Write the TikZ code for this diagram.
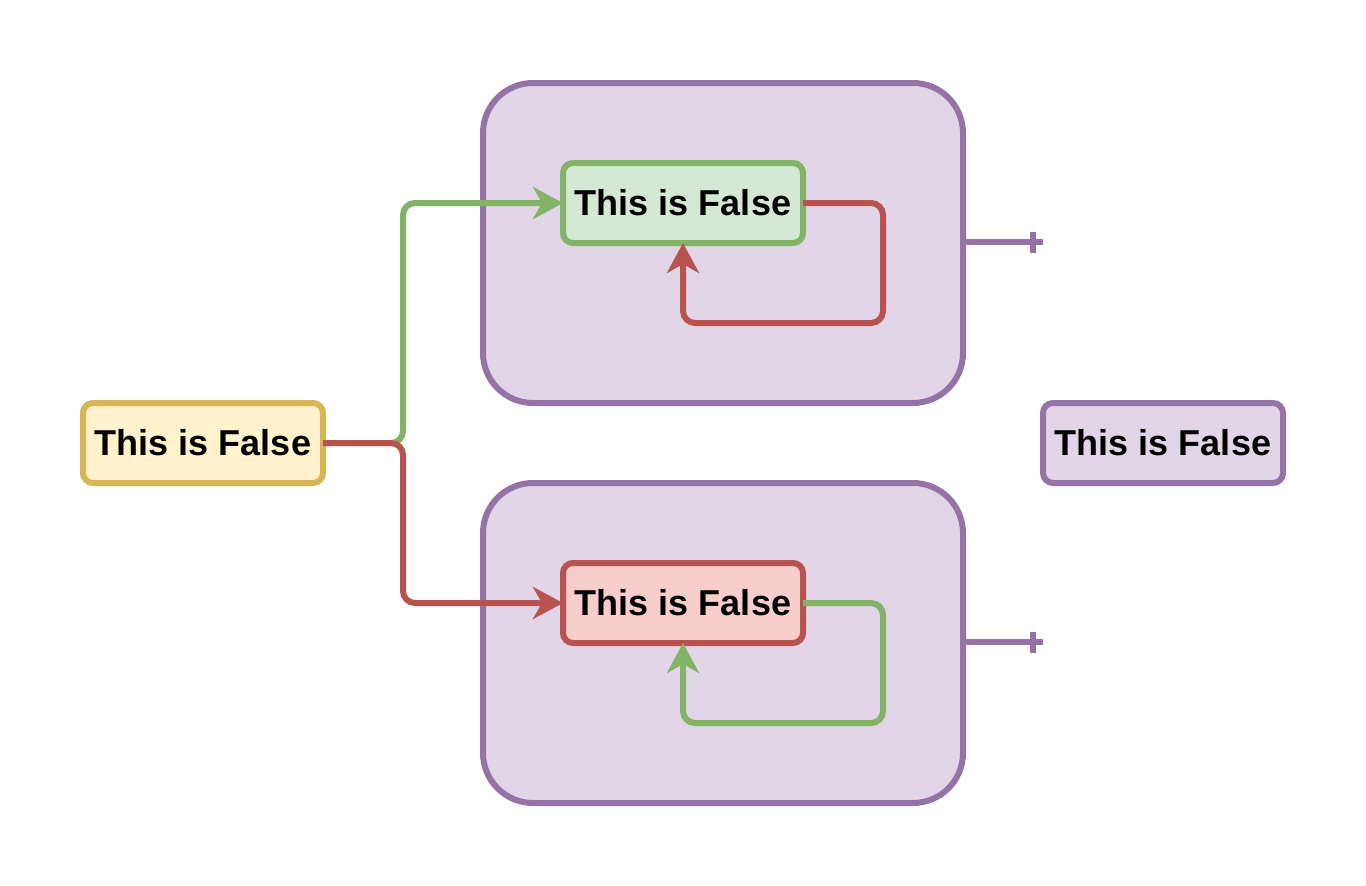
\documentclass[tikz,border=0pt]{standalone}
\usepackage{fontspec}
\setmainfont{Liberation Sans}
\usetikzlibrary{arrows.meta}
\definecolor{pfill}{HTML}{E1D5E7}\definecolor{pline}{HTML}{9673A6}
\definecolor{gfill}{HTML}{D5E8D4}\definecolor{gline}{HTML}{82B366}
\definecolor{rfill}{HTML}{F8CECC}\definecolor{rline}{HTML}{B85450}
\definecolor{yfill}{HTML}{FFF2CC}\definecolor{yline}{HTML}{D6B656}
\tikzset{
  box/.style={draw, line width=6pt, rounded corners=10pt, minimum width=240pt, minimum height=80pt,
    inner sep=0pt, outer sep=0pt, font=\fontsize{36}{43}\selectfont\bfseries},
  cont/.style={draw=pline, fill=pfill, line width=6pt, rounded corners=50pt, minimum width=480pt,
    minimum height=320pt, inner sep=0pt, outer sep=0pt},
  conn/.style={line width=6pt, rounded corners=12pt, -{Stealth[length=30pt,width=32pt,inset=9pt]}},
  stub/.style={draw=pline, line width=6pt},
}
\begin{document}
\begin{tikzpicture}[x=1pt,y=-1pt]
\useasboundingbox (0,0) rectangle (1366,886);
\node[cont] (u) at (723,243) {};
\node[cont] (l) at (723,643) {};
\node[box, draw=yline, fill=yfill] (y) at (203,443) {This is False};
\node[box, draw=gline, fill=gfill] (g) at (683,203) {This is False};
\node[box, draw=rline, fill=rfill] (r) at (683,603) {This is False};
\node[box, draw=pline, fill=pfill] (p) at (1163,443) {This is False};
\coordinate (j) at (403,443);
\coordinate (c1) at (883,323);
\coordinate (c2) at (883,723);
\coordinate (s1) at (1043,242);
\coordinate (s2) at (1043,642);
\coordinate (b1) at (1033,242);
\coordinate (b2) at (1033,642);
\draw[conn, draw=gline] (y.east) -- (j) |- (g.west);
\draw[conn, draw=rline] (y.east) -- (j) |- (r.west);
\draw[conn, draw=rline] (g.east) -| (c1) -| (g.south);
\draw[conn, draw=gline] (r.east) -| (c2) -| (r.south);
\draw[stub] (u.east |- s1) -- (s1);
\draw[stub] (b1) ++(0,-10.5) -- ++(0,21);
\draw[stub] (l.east |- s2) -- (s2);
\draw[stub] (b2) ++(0,-10.5) -- ++(0,21);
\end{tikzpicture}
\end{document}
